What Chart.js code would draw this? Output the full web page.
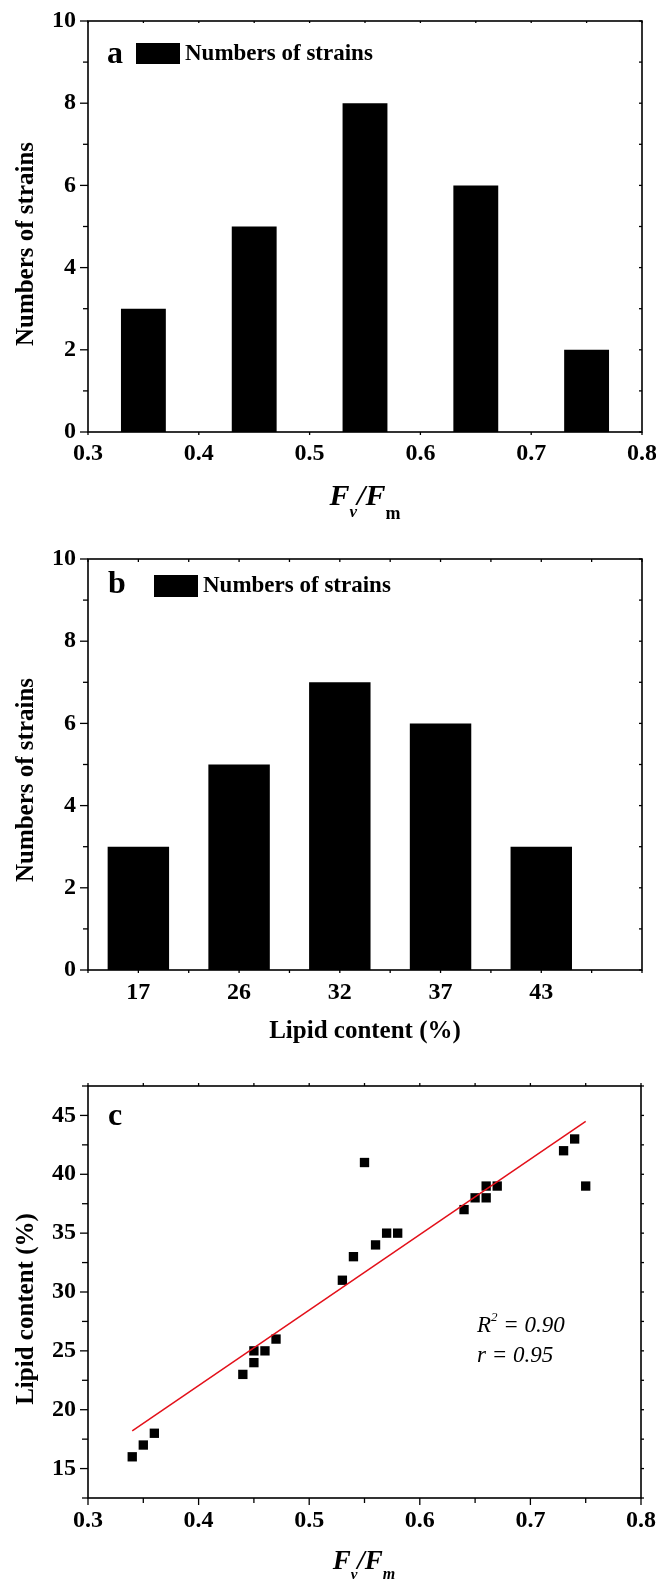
<!DOCTYPE html>
<html>
<head>
<meta charset="utf-8">
<script src="https://cdn.jsdelivr.net/npm/chart.js@4.4.0/dist/chart.umd.min.js"></script>
<style>
  html, body { margin: 0; padding: 0; background: #fff; }
  body { width: 656px; height: 1580px; position: relative; overflow: hidden; }
  canvas { position: absolute; left: 0; }
</style>
</head>
<body>
<canvas id="chartA" width="656" height="525" style="top:0"></canvas>
<canvas id="chartB" width="656" height="520" style="top:525px"></canvas>
<canvas id="chartC" width="656" height="535" style="top:1045px"></canvas>
<script>
// panel a: distribution of Fv/Fm
const fvfmBins = [0.35, 0.45, 0.55, 0.65, 0.75];
const fvfmCounts = [3, 5, 8, 6, 2];
const fvfmTicks = [0.3, 0.4, 0.5, 0.6, 0.7, 0.8];
const fvfmMinor = [0.35, 0.45, 0.55, 0.65, 0.75];
const countTicks = [0, 2, 4, 6, 8, 10];
const countMinor = [1, 3, 5, 7, 9];

// panel b: distribution of lipid content
const lipidLabels = ["17", "26", "32", "37", "43"];
const lipidSlots = [1, 3, 5, 7, 9];
const lipidCounts = [3, 5, 7, 6, 3];
const slotMinor = [0, 2, 4, 6, 8, 10, 11];

// panel c: lipid content vs Fv/Fm
const strainFvFm = [0.34, 0.35, 0.36, 0.44, 0.45, 0.45, 0.46, 0.47, 0.53, 0.54, 0.55,
  0.56, 0.57, 0.58, 0.64, 0.65, 0.66, 0.66, 0.67, 0.73, 0.74, 0.75];
const strainLipid = [16, 17, 18, 23, 25, 24, 25, 26, 31, 33, 41,
  34, 35, 35, 37, 38, 39, 38, 39, 42, 43, 39];
const fitFvFm = [0.34, 0.75];
const fitLipid = [18.2, 44.5];
const lipidTicks = [15, 20, 25, 30, 35, 40, 45];
const lipidMinor = [12.5, 17.5, 22.5, 27.5, 32.5, 37.5, 42.5, 47.5];

const FAMILY = "'Liberation Serif', 'Times New Roman', serif";
Chart.defaults.font.family = FAMILY;
Chart.defaults.color = "#000";

const tickFont = { family: FAMILY, size: 24, weight: "bold" };

function axis(ticks, min, max, size, pad, horizontal, fmt) {
  return {
    type: "linear",
    min: min,
    max: max,
    offset: false,
    grid: { display: false, drawTicks: false },
    border: { display: false },
    ticks: { padding: pad, font: tickFont, color: "#000", maxRotation: 0, autoSkip: false, callback: fmt },
    afterBuildTicks: (s) => { s.ticks = ticks.map((v) => ({ value: v })); },
    afterFit: (s) => {
      if (horizontal) s.height = size; else s.width = size;
      s.paddingLeft = 0; s.paddingRight = 0; s.paddingTop = 0; s.paddingBottom = 0;
    },
  };
}

function drawParts(ctx, item) {
  let w = 0;
  item.parts.forEach((p) => { ctx.font = p.font; w += ctx.measureText(p.t).width + (p.dx || 0); });
  ctx.save();
  ctx.translate(item.x, item.y);
  if (item.rotate) ctx.rotate(item.rotate);
  ctx.textBaseline = item.baseline || "alphabetic";
  ctx.textAlign = "left";
  let x = item.align === "center" ? -w / 2 : 0;
  item.parts.forEach((p) => {
    ctx.font = p.font;
    x += p.dx || 0;
    ctx.fillText(p.t, x, p.dy || 0);
    x += ctx.measureText(p.t).width;
  });
  ctx.restore();
}

// frame box, tick marks on all four sides, titles and the in-plot legend
const frame = {
  id: "frame",
  afterDraw(chart, args, o) {
    const { ctx, chartArea: a, scales } = chart;
    ctx.save();
    ctx.strokeStyle = "#000";
    ctx.fillStyle = "#000";
    ctx.lineWidth = 1.6;
    ctx.strokeRect(a.left, a.top, a.right - a.left, a.bottom - a.top);
    ctx.lineWidth = 1.3;
    (o.marks || []).forEach((m) => {
      m.values.forEach((v) => {
        ctx.beginPath();
        if (m.side === "left" || m.side === "right") {
          const y = scales.y.getPixelForValue(v);
          const x0 = m.side === "left" ? a.left : a.right;
          const x1 = m.side === "left" ? x0 - m.len : x0 + m.len;
          ctx.moveTo(x0, y); ctx.lineTo(x1, y);
        } else {
          const x = scales.x.getPixelForValue(v);
          const y0 = m.side === "bottom" ? a.bottom : a.top;
          const y1 = m.side === "bottom" ? y0 + m.len : y0 - m.len;
          ctx.moveTo(x, y0); ctx.lineTo(x, y1);
        }
        ctx.stroke();
      });
    });
    if (o.legend) {
      const L = o.legend;
      ctx.fillStyle = chart.data.datasets[0].backgroundColor;
      ctx.fillRect(L.box[0], L.box[1], L.box[2], L.box[3]);
      ctx.fillStyle = "#000";
      ctx.font = "bold 23px " + FAMILY;
      ctx.textBaseline = "alphabetic";
      ctx.fillText(chart.data.datasets[0].label, L.x, L.y);
    }
    (o.texts || []).forEach((t) => drawParts(ctx, t));
    ctx.restore();
  },
};

const B = (px) => "bold " + px + "px " + FAMILY;
const BI = (px) => "italic bold " + px + "px " + FAMILY;
const I = (px) => "italic " + px + "px " + FAMILY;
const UP = -Math.PI / 2;

new Chart(document.getElementById("chartA"), {
  type: "bar",
  data: {
    datasets: [{
      label: "Numbers of strains",
      data: fvfmBins.map((x, i) => ({ x: x, y: fvfmCounts[i] })),
      backgroundColor: "#000",
      borderWidth: 0,
      barPercentage: 0.405,
      categoryPercentage: 1,
    }],
  },
  options: {
    responsive: false,
    animation: false,
    layout: { padding: { top: 21, right: 14, bottom: 0, left: 0 } },
    plugins: {
      legend: { display: false },
      tooltip: { enabled: false },
      frame: {
        marks: [
          { side: "left", values: countTicks, len: 8 },
          { side: "left", values: countMinor, len: 5 },
          { side: "right", values: countTicks.concat(countMinor), len: -3 },
          { side: "bottom", values: fvfmTicks, len: 3 },
          { side: "bottom", values: fvfmMinor, len: -3 },
          { side: "top", values: fvfmTicks.concat(fvfmMinor), len: -2 },
        ],
        legend: { box: [136, 43, 44, 21], x: 185, y: 60 },
        texts: [
          { x: 27, y: 244, rotate: UP, align: "center", baseline: "middle", parts: [{ t: "Numbers of strains", font: B(25) }] },
          { x: 107, y: 63, parts: [{ t: "a", font: B(32) }] },
          { x: 365, y: 505, align: "center", parts: [
            { t: "F", font: BI(30) },
            { t: "v", font: BI(17), dy: 12 },
            { t: "/F", font: BI(30) },
            { t: "m", font: B(18), dy: 14 },
          ] },
        ],
      },
    },
    scales: {
      x: axis(fvfmTicks, 0.3, 0.8, 93, 7, true, (v) => Number(v).toFixed(1)),
      y: axis(countTicks, 0, 10, 88, 12, false, (v) => String(v)),
    },
  },
  plugins: [frame],
});

new Chart(document.getElementById("chartB"), {
  type: "bar",
  data: {
    datasets: [{
      label: "Numbers of strains",
      data: lipidSlots.map((x, i) => ({ x: x, y: lipidCounts[i] })),
      backgroundColor: "#000",
      borderWidth: 0,
      barPercentage: 0.61,
      categoryPercentage: 1,
    }],
  },
  options: {
    responsive: false,
    animation: false,
    layout: { padding: { top: 34, right: 14, bottom: 0, left: 0 } },
    plugins: {
      legend: { display: false },
      tooltip: { enabled: false },
      frame: {
        marks: [
          { side: "left", values: countTicks, len: 8 },
          { side: "left", values: countMinor, len: 5 },
          { side: "right", values: countTicks.concat(countMinor), len: -3 },
          { side: "bottom", values: lipidSlots.concat(slotMinor), len: 3 },
          { side: "top", values: lipidSlots.concat(slotMinor), len: -3 },
        ],
        legend: { box: [154, 50, 44, 22], x: 203, y: 67 },
        texts: [
          { x: 27, y: 255, rotate: UP, align: "center", baseline: "middle", parts: [{ t: "Numbers of strains", font: B(25) }] },
          { x: 108, y: 68, parts: [{ t: "b", font: B(32) }] },
          { x: 365, y: 513, align: "center", parts: [{ t: "Lipid content (%)", font: B(25) }] },
        ],
      },
    },
    scales: {
      x: axis(lipidSlots, 0, 11, 75, 8, true, (v, i) => lipidLabels[i]),
      y: axis(countTicks, 0, 10, 88, 12, false, (v) => String(v)),
    },
  },
  plugins: [frame],
});

new Chart(document.getElementById("chartC"), {
  type: "scatter",
  data: {
    datasets: [
      {
        label: "Linear fit",
        data: fitFvFm.map((x, i) => ({ x: x, y: fitLipid[i] })),
        showLine: true,
        borderColor: "#e3101a",
        borderWidth: 1.5,
        pointRadius: 0,
      },
      {
        label: "Strains",
        data: strainFvFm.map((x, i) => ({ x: x, y: strainLipid[i] })),
        pointStyle: "rect",
        pointRadius: 6.6,
        backgroundColor: "#000",
        borderColor: "#000",
        borderWidth: 0,
      },
    ],
  },
  options: {
    responsive: false,
    animation: false,
    layout: { padding: { top: 41, right: 15, bottom: 0, left: 0 } },
    plugins: {
      legend: { display: false },
      tooltip: { enabled: false },
      frame: {
        marks: [
          { side: "left", values: lipidTicks, len: 8 },
          { side: "left", values: lipidMinor, len: 6 },
          { side: "right", values: lipidTicks.concat(lipidMinor), len: 3 },
          { side: "bottom", values: fvfmTicks, len: 7 },
          { side: "bottom", values: fvfmMinor, len: 5 },
          { side: "top", values: fvfmTicks.concat(fvfmMinor), len: 3 },
        ],
        texts: [
          { x: 27, y: 264, rotate: UP, align: "center", baseline: "middle", parts: [{ t: "Lipid content (%)", font: B(25) }] },
          { x: 108, y: 80, parts: [{ t: "c", font: B(32) }] },
          { x: 477, y: 287, parts: [
            { t: "R", font: I(23) },
            { t: "2", font: I(13), dy: -11 },
            { t: " = 0.90", font: I(23) },
          ] },
          { x: 477, y: 317, parts: [{ t: "r = 0.95", font: I(23) }] },
          { x: 364, y: 524, align: "center", parts: [
            { t: "F", font: BI(27) },
            { t: "v", font: BI(15), dy: 10 },
            { t: "/F", font: BI(27) },
            { t: "m", font: BI(16), dy: 10 },
          ] },
        ],
      },
    },
    scales: {
      x: axis(fvfmTicks, 0.3, 0.8, 82, 8, true, (v) => Number(v).toFixed(1)),
      y: axis(lipidTicks, 12.5, 47.5, 88, 12, false, (v) => String(v)),
    },
  },
  plugins: [frame],
});
</script>
</body>
</html>
